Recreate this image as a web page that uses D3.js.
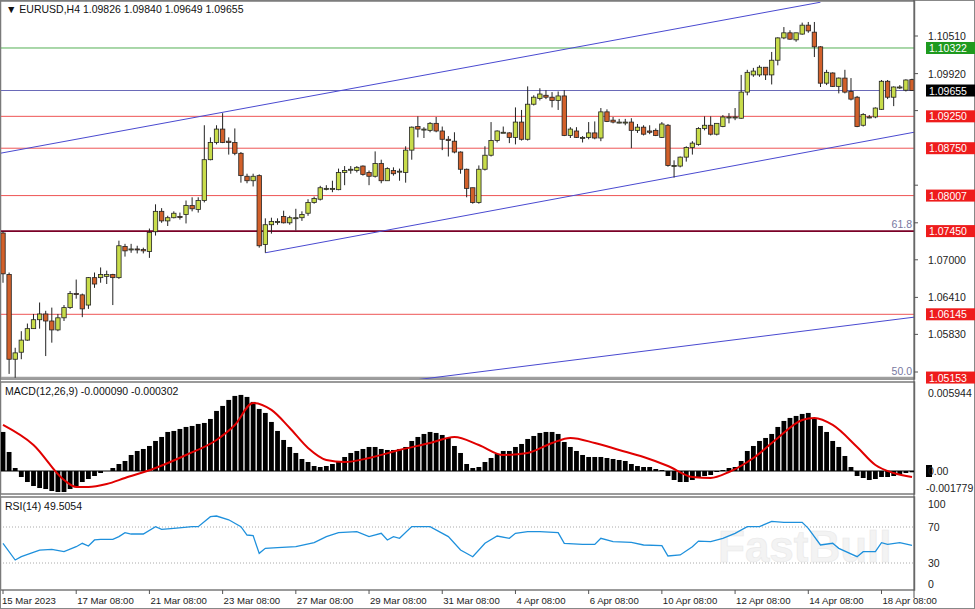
<!DOCTYPE html>
<html><head><meta charset="utf-8">
<script src="https://cdn.jsdelivr.net/npm/d3@7"></script>
<style>
body{margin:0;background:#fff;}
svg{display:block;font-family:"Liberation Sans",Arial,sans-serif;font-size:10.5px;}
</style></head>
<body><svg width="975" height="609"></svg>
<script>
// H4 candles: [open, high, low, close]
const candles = [
[1.0742,1.0745,1.0664,1.0678],[1.0677,1.0680,1.0521,1.0544],[1.0544,1.0562,1.0515,1.0554],[1.0555,1.0588,1.0544,1.0574],
[1.0574,1.0600,1.0573,1.0592],[1.0592,1.0615,1.0592,1.0606],[1.0606,1.0633,1.0592,1.0615],[1.0615,1.0620,1.0549,1.0604],
[1.0604,1.0625,1.0570,1.0590],[1.0590,1.0615,1.0588,1.0609],[1.0609,1.0629,1.0604,1.0625],[1.0625,1.0651,1.0623,1.0647],
[1.0647,1.0669,1.0639,1.0646],[1.0645,1.0647,1.0610,1.0623],[1.0629,1.0673,1.0623,1.0672],[1.0672,1.0680,1.0656,1.0662],
[1.0672,1.0688,1.0664,1.0677],[1.0674,1.0683,1.0662,1.0677],[1.0677,1.0678,1.0629,1.0672],[1.0672,1.0730,1.0670,1.0722],
[1.0721,1.0725,1.0705,1.0714],[1.0716,1.0725,1.0711,1.0717],[1.0717,1.0722,1.0710,1.0716],[1.0716,1.0719,1.0710,1.0714],
[1.0713,1.0749,1.0703,1.0743],[1.0744,1.0787,1.0738,1.0776],[1.0776,1.0781,1.0758,1.0761],[1.0761,1.0769,1.0753,1.0766],
[1.0766,1.0776,1.0765,1.0773],[1.0768,1.0774,1.0763,1.0767],[1.0771,1.0793,1.0757,1.0785],[1.0785,1.0798,1.0776,1.0780],
[1.0779,1.0798,1.0774,1.0793],[1.0793,1.0911,1.0790,1.0857],[1.0857,1.0892,1.0856,1.0884],[1.0884,1.0911,1.0881,1.0905],
[1.0905,1.0930,1.0883,1.0884],[1.0886,1.0892,1.0865,1.0884],[1.0884,1.0906,1.0864,1.0867],[1.0867,1.0869,1.0821,1.0832],
[1.0831,1.0835,1.0820,1.0824],[1.0824,1.0835,1.0815,1.0831],[1.0832,1.0834,1.0719,1.0722],[1.0724,1.0765,1.0711,1.0755],
[1.0755,1.0766,1.0741,1.0760],[1.0760,1.0765,1.0755,1.0760],[1.0768,1.0777,1.0757,1.0758],[1.0758,1.0769,1.0755,1.0766],
[1.0766,1.0780,1.0746,1.0766],[1.0766,1.0776,1.0761,1.0771],[1.0773,1.0795,1.0769,1.0790],[1.0790,1.0799,1.0788,1.0796],
[1.0795,1.0816,1.0793,1.0813],[1.0812,1.0817,1.0809,1.0812],[1.0812,1.0824,1.0806,1.0812],[1.0810,1.0843,1.0809,1.0837],
[1.0837,1.0847,1.0817,1.0840],[1.0842,1.0847,1.0835,1.0842],[1.0840,1.0847,1.0837,1.0845],[1.0847,1.0848,1.0832,1.0834],
[1.0837,1.0840,1.0817,1.0831],[1.0831,1.0870,1.0829,1.0851],[1.0851,1.0857,1.0820,1.0824],[1.0824,1.0845,1.0824,1.0843],
[1.0840,1.0845,1.0832,1.0835],[1.0839,1.0843,1.0824,1.0839],[1.0837,1.0878,1.0821,1.0872],[1.0872,1.0909,1.0857,1.0908],
[1.0909,1.0925,1.0892,1.0905],[1.0905,1.0908,1.0891,1.0905],[1.0903,1.0916,1.0900,1.0914],[1.0914,1.0924,1.0900,1.0902],
[1.0902,1.0909,1.0872,1.0889],[1.0889,1.0894,1.0862,1.0887],[1.0886,1.0900,1.0867,1.0869],[1.0869,1.0870,1.0835,1.0842],
[1.0842,1.0843,1.0798,1.0812],[1.0813,1.0813,1.0788,1.0790],[1.0790,1.0848,1.0788,1.0842],[1.0842,1.0878,1.0840,1.0864],
[1.0864,1.0916,1.0862,1.0887],[1.0887,1.0903,1.0884,1.0902],[1.0900,1.0909,1.0899,1.0900],[1.0899,1.0900,1.0883,1.0892],
[1.0892,1.0939,1.0881,1.0916],[1.0916,1.0935,1.0887,1.0889],[1.0889,1.0972,1.0887,1.0944],[1.0944,1.0958,1.0942,1.0955],
[1.0953,1.0969,1.0950,1.0960],[1.0958,1.0966,1.0952,1.0955],[1.0955,1.0963,1.0939,1.0950],[1.0950,1.0964,1.0935,1.0957],
[1.0957,1.0966,1.0894,1.0895],[1.0895,1.0908,1.0891,1.0905],[1.0902,1.0908,1.0891,1.0892],[1.0892,1.0894,1.0884,1.0892],
[1.0892,1.0916,1.0889,1.0899],[1.0899,1.0917,1.0889,1.0891],[1.0891,1.0938,1.0886,1.0932],[1.0932,1.0936,1.0916,1.0917],
[1.0919,1.0924,1.0914,1.0916],[1.0916,1.0921,1.0914,1.0916],[1.0916,1.0921,1.0911,1.0916],[1.0916,1.0922,1.0875,1.0903],
[1.0903,1.0913,1.0899,1.0908],[1.0908,1.0911,1.0895,1.0897],[1.0902,1.0911,1.0897,1.0900],[1.0903,1.0906,1.0894,1.0895],
[1.0892,1.0916,1.0891,1.0913],[1.0911,1.0913,1.0846,1.0848],[1.0848,1.0856,1.0829,1.0848],[1.0847,1.0862,1.0845,1.0861],
[1.0861,1.0878,1.0854,1.0876],[1.0876,1.0886,1.0865,1.0883],[1.0881,1.0908,1.0879,1.0906],[1.0906,1.0925,1.0903,1.0911],
[1.0911,1.0925,1.0895,1.0897],[1.0897,1.0914,1.0895,1.0914],[1.0909,1.0927,1.0908,1.0924],[1.0924,1.0930,1.0914,1.0924],
[1.0924,1.0938,1.0919,1.0924],[1.0922,1.0990,1.0921,1.0963],[1.0963,1.0998,1.0958,1.0994],[1.0990,1.1001,1.0987,1.0996],
[1.0990,1.1005,1.0987,1.1002],[1.1002,1.1002,1.0982,1.0990],[1.0990,1.1026,1.0975,1.1013],[1.1013,1.1049,1.1005,1.1048],
[1.1048,1.1065,1.1046,1.1056],[1.1056,1.1060,1.1045,1.1046],[1.1045,1.1056,1.1042,1.1056],[1.1054,1.1072,1.1053,1.1068],
[1.1068,1.1073,1.1056,1.1059],[1.1057,1.1073,1.1018,1.1034],[1.1034,1.1035,1.0971,1.0977],[1.0977,1.0998,1.0974,1.0994],
[1.0993,1.0994,1.0971,1.0972],[1.0972,1.0986,1.0961,1.0985],[1.0985,1.0998,1.0961,1.0963],[1.0964,1.0985,1.0950,1.0952],
[1.0955,1.0957,1.0908,1.0909],[1.0911,1.0930,1.0909,1.0928],[1.0924,1.0927,1.0922,1.0924],[1.0924,1.0939,1.0922,1.0938],
[1.0936,1.0982,1.0935,1.0980],[1.0980,1.0982,1.0952,1.0955],[1.0955,1.0972,1.0941,1.0971],[1.0971,1.0974,1.0968,1.0971],
[1.0966,1.0983,1.0964,1.0982],[1.09826,1.09840,1.09649,1.09655]
];

const macdHist = [
0.00273,0.00133,0.00021,-0.00042,-0.00077,-0.00105,-0.00119,-0.00126,-0.00140,-0.00147,-0.00147,-0.00126,-0.00105,-0.00077,-0.00056,-0.00035,
-0.00014,0.00000,0.00021,0.00049,0.00070,0.00112,0.00140,0.00154,0.00175,0.00210,0.00238,0.00273,0.00280,0.00294,0.00308,0.00315,
0.00329,0.00336,0.00364,0.00420,0.00455,0.00497,0.00525,0.00532,0.00518,0.00483,0.00434,0.00406,0.00343,0.00280,0.00217,0.00168,
0.00126,0.00084,0.00063,0.00035,0.00028,0.00035,0.00049,0.00070,0.00098,0.00126,0.00140,0.00154,0.00168,0.00168,0.00154,0.00147,
0.00147,0.00154,0.00168,0.00210,0.00238,0.00259,0.00273,0.00266,0.00252,0.00231,0.00175,0.00126,0.00049,0.00021,0.00028,0.00063,
0.00091,0.00119,0.00140,0.00140,0.00168,0.00189,0.00224,0.00245,0.00266,0.00273,0.00273,0.00259,0.00203,0.00168,0.00140,0.00112,
0.00098,0.00098,0.00098,0.00091,0.00084,0.00077,0.00070,0.00049,0.00035,0.00028,0.00028,0.00014,0.00007,-0.00035,-0.00063,-0.00077,
-0.00077,-0.00063,-0.00042,-0.00035,-0.00028,-0.00007,0.00007,0.00021,0.00028,0.00070,0.00140,0.00175,0.00210,0.00231,0.00259,0.00308,
0.00350,0.00371,0.00385,0.00399,0.00406,0.00371,0.00315,0.00273,0.00210,0.00168,0.00105,0.00028,-0.00035,-0.00049,-0.00063,-0.00056,
-0.00042,-0.00042,-0.00035,-0.00021,-0.00014,-0.00009
];

// signal line, read at [bar, value]
const macdSignal = [
[0,0.00322],[5,0.00182],[10,-0.00063],[12,-0.00112],[14,-0.00112],[17,-0.00091],[20,-0.00049],[25,0.00021],[30,0.00112],
[35,0.00217],[38,0.00322],[41,0.00476],[44,0.00427],[47,0.00301],[50,0.00161],[53,0.00077],[56,0.00063],[60,0.00091],
[65,0.00147],[70,0.00196],[74,0.00238],[78,0.00182],[82,0.00112],[86,0.00126],[90,0.00196],[93,0.00231],[97,0.00196],
[101,0.00147],[105,0.00098],[109,0.00035],[113,-0.00042],[116,-0.00049],[119,-0.00007],[123,0.00091],[127,0.00231],
[131,0.00357],[133,0.00371],[136,0.00322],[140,0.00168],[143,0.00042],[146,-0.00014],[149,-0.00042]
];

const rsi = [
[0,51.9],[2,33.3],[3,37],[6,44.4],[8,45.2],[10,42.6],[12,48.1],[13,51.9],[14,48.9],[15,55.6],[16,56.3],[18,56.3],[19,59.3],
[20,63.7],[21,62.2],[23,62.2],[25,70.4],[26,67.4],[28,68.5],[31,70.4],[32,70.4],[34,81.5],[35,82.2],[37,78],[39,70.4],[40,61.1],
[41,60.4],[42,40.7],[43,46.3],[45,47],[48,48.1],[51,52.6],[53,59.3],[55,63.7],[58,64.8],[60,59.3],[62,63],[63,55.6],[64,59.3],
[65,57.4],[67,70.4],[70,70.4],[73,59.3],[75,44.4],[77,37],[79,51.9],[81,60],[83,57.4],[84,63],[86,64.8],[88,64.8],[91,63.7],
[92,51.9],[95,50.7],[97,50.7],[98,57.4],[100,53.7],[103,53],[105,50],[108,49.3],[109,37.8],[111,38.9],[113,48.1],[114,54.4],
[116,53.7],[118,57.4],[120,63],[122,70.4],[124,70.4],[126,76.3],[128,75.2],[131,75.2],[132,68.5],[134,50],[136,51.9],[137,46.3],
[140,37],[141,42.6],[143,42.6],[144,52.6],[145,50.7],[147,52.6],[149,49.5]
];

const levels = [
  {v:1.10322, color:"#55b055", box:"#1e9a1e", w:1},
  {v:1.09655, color:"#6a6ab8", box:"#000000", w:1},
  {v:1.09250, color:"#ee5555", box:"#ee1c1c", w:1},
  {v:1.08750, color:"#ee5555", box:"#ee1c1c", w:1},
  {v:1.08007, color:"#ee5555", box:"#ee1c1c", w:1},
  {v:1.07450, color:"#7a0026", box:"#ee1c1c", w:1.6},
  {v:1.06145, color:"#ee5555", box:"#ee1c1c", w:1},
  {v:1.05153, color:"#a0a0a0", box:"#ee1c1c", w:1.6}
];
const priceTicks = [1.10510,1.09920,1.09340,1.08170,1.07580,1.07000,1.06410,1.05830,1.05240];
const channels = [
  [[-0.5,1.0867],[134,1.1104]],
  [[43,1.0711],[151,1.0903]],
  [[58,1.0500],[151,1.0612]]
];
const fibs = [{v:1.07450, t:"61.8"},{v:1.05153, t:"50.0"}];
const dateLabels = ["15 Mar 2023","17 Mar 08:00","21 Mar 08:00","23 Mar 08:00","27 Mar 08:00","29 Mar 08:00",
  "31 Mar 08:00","4 Apr 08:00","6 Apr 08:00","10 Apr 08:00","12 Apr 08:00","14 Apr 08:00","18 Apr 08:00"];
const barsPerLabel = 12;

const svg = d3.select("svg");
const W = 975, axisX = 914;
const P = {top:2, bottom:379}, M = {top:383, bottom:494}, R = {top:498, bottom:590};

const x = d3.scaleLinear().domain([0, candles.length - 1]).range([3, 912]);
const y = d3.scaleLinear().domain([1.10510, 1.05240]).range([36, 372]);
const ym = d3.scaleLinear().domain([0, 0.005944]).range([471, 386]);
const yr = d3.scaleLinear().domain([0, 100]).range([590, 500]);

[["cp",P],["cm",M],["cr",R]].forEach(([id,p]) => {
  svg.append("clipPath").attr("id", id).append("rect")
    .attr("x", 1).attr("y", p.top).attr("width", axisX - 1).attr("height", p.bottom - p.top);
});

svg.append("rect").attr("x",0.5).attr("y",0.5).attr("width",W-1).attr("height",608).attr("fill","none").attr("stroke","#888");
[P,M,R].forEach(p => {
  svg.append("rect").attr("x",0.5).attr("y",p.top-1).attr("width",axisX).attr("height",p.bottom-p.top+1)
    .attr("fill","none").attr("stroke","#7a7a7a").attr("stroke-width",1.5);
});

// watermark
svg.append("text").attr("x",718).attr("y",562).attr("font-size",44).attr("font-weight","bold")
  .attr("fill","#f3f3f3").attr("stroke","#e9e9e9").attr("stroke-width",0.6).text("FastBull");

const gp = svg.append("g").attr("clip-path","url(#cp)");

levels.forEach(l => {
  gp.append("line").attr("x1",0).attr("x2",axisX).attr("y1",y(l.v)).attr("y2",y(l.v))
    .attr("stroke",l.color).attr("stroke-width",l.w);
});
channels.forEach(c => {
  gp.append("line").attr("x1",x(c[0][0])).attr("y1",y(c[0][1])).attr("x2",x(c[1][0])).attr("y2",y(c[1][1]))
    .attr("stroke","#4a4ad0").attr("stroke-width",1);
});
fibs.forEach(f => {
  svg.append("text").attr("x",912).attr("y",y(f.v)-3).attr("text-anchor","end").attr("fill","#7878a0").text(f.t);
});

// candles
const cg = gp.selectAll("g.c").data(candles).join("g");
cg.append("line").attr("x1",(d,i)=>x(i)).attr("x2",(d,i)=>x(i))
  .attr("y1",d=>y(d[1])).attr("y2",d=>y(d[2])).attr("stroke","#222").attr("stroke-width",1);
cg.append("rect").attr("x",(d,i)=>x(i)-2.2).attr("width",4.4)
  .attr("y",d=>y(Math.max(d[0],d[3])))
  .attr("height",d=>Math.max(1,Math.abs(y(d[0])-y(d[3]))))
  .attr("fill",d=>d[3]>=d[0]?"#c8dc4a":"#d2602a").attr("stroke","#222").attr("stroke-width",0.8);

// price axis: plain tick labels hidden where a level box sits on them
const ax = svg.append("g");
ax.append("line").attr("x1",axisX).attr("x2",axisX).attr("y1",0).attr("y2",598).attr("stroke","#555");
priceTicks.forEach(t => {
  ax.append("line").attr("x1",axisX).attr("x2",axisX+4).attr("y1",y(t)).attr("y2",y(t)).attr("stroke","#555");
  if (levels.some(l => Math.abs(y(l.v) - y(t)) < 11)) return;
  ax.append("text").attr("x",axisX+14).attr("y",y(t)+4).attr("fill","#222").text(d3.format(".5f")(t));
});
levels.forEach(l => {
  ax.append("rect").attr("x",axisX+12).attr("y",y(l.v)-6).attr("width",52).attr("height",12).attr("fill",l.box);
  ax.append("text").attr("x",axisX+15).attr("y",y(l.v)+4).attr("fill","#fff").text(d3.format(".5f")(l.v));
});

svg.append("text").attr("x",6).attr("y",13).attr("fill","#111").text("\u25BC EURUSD,H4  1.09826 1.09840 1.09649 1.09655");

// MACD
const gm = svg.append("g").attr("clip-path","url(#cm)");
gm.selectAll("rect").data(macdHist).join("rect")
  .attr("x",(d,i)=>x(i)-2.4).attr("width",4.8)
  .attr("y",d=>ym(Math.max(0,d))).attr("height",d=>Math.abs(ym(d)-ym(0)))
  .attr("fill","#000");
gm.append("line").attr("x1",0).attr("x2",axisX).attr("y1",ym(0)).attr("y2",ym(0)).attr("stroke","#000");
gm.append("path").datum(macdSignal)
  .attr("d",d3.line().x(d=>x(d[0])).y(d=>ym(d[1])).curve(d3.curveMonotoneX))
  .attr("fill","none").attr("stroke","#e00000").attr("stroke-width",2);
svg.append("text").attr("x",5).attr("y",M.top+12).attr("fill","#111").text("MACD(12,26,9) -0.000090 -0.000302");
svg.append("text").attr("x",axisX+14).attr("y",M.top+14).attr("fill","#222").text("0.005944");
svg.append("rect").attr("x",axisX+12).attr("y",ym(0)-6).attr("width",6).attr("height",12).attr("fill","#000");
svg.append("text").attr("x",axisX+14).attr("y",ym(0)+4).attr("fill","#222").text("0.00");
svg.append("text").attr("x",axisX+12).attr("y",M.bottom-2).attr("fill","#222").text("-0.001779");

// RSI
const gr = svg.append("g").attr("clip-path","url(#cr)");
[70,30].forEach(v => gr.append("line").attr("x1",0).attr("x2",axisX).attr("y1",yr(v)).attr("y2",yr(v))
  .attr("stroke","#aaa").attr("stroke-dasharray","1,2"));
gr.append("path").datum(rsi).attr("d",d3.line().x(d=>x(d[0])).y(d=>yr(d[1])))
  .attr("fill","none").attr("stroke","#1e90dc").attr("stroke-width",1.3);
svg.append("text").attr("x",5).attr("y",R.top+12).attr("fill","#111").text("RSI(14) 49.5054");
[[100,R.top+10],[70,yr(70)+4],[30,yr(30)+4],[0,R.bottom-2]].forEach(([v,yy]) =>
  svg.append("text").attr("x",axisX+14).attr("y",yy).attr("fill","#222").text(v));

// date axis, labels start at their tick
dateLabels.forEach((t,k) => {
  const xx = x(k*barsPerLabel);
  svg.append("line").attr("x1",xx).attr("x2",xx).attr("y1",R.bottom).attr("y2",R.bottom+4).attr("stroke","#555");
  svg.append("text").attr("x",k===0?2:xx+1).attr("y",604).attr("font-size",9.6).attr("fill","#222").text(t);
});
</script></body></html>
